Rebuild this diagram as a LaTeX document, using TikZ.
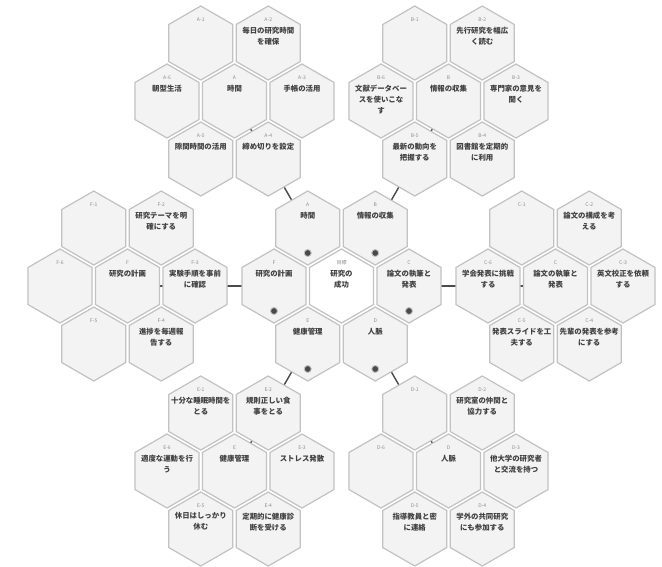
\documentclass[tikz,border=0pt]{standalone}
\usepackage{fontspec}
\setmainfont{Noto Sans CJK JP}
\usetikzlibrary{shapes.geometric}
\pgfdeclarelayer{bg}
\pgfsetlayers{bg,main}
\definecolor{hexfill}{HTML}{F3F3F3}
\definecolor{hexline}{HTML}{C2C2C2}
\definecolor{txt}{HTML}{404040}
\definecolor{lab}{HTML}{8C8C8C}
\definecolor{link}{HTML}{4A4A4A}
\tikzset{
  hexcell/.style={regular polygon, regular polygon sides=6, shape border rotate=30,
    minimum size=74pt, inner sep=0pt, outer sep=0pt, draw=hexline, fill=hexfill, line width=1.2pt},
  goalcell/.style={hexcell, fill=white},
  hexlab/.style={font=\fontsize{5}{5}\selectfont, text=lab, inner sep=0pt},
  hextext/.style={font=\bfseries\fontsize{7.4}{11}\selectfont, text=txt, align=center, inner sep=0pt, anchor=north},
  linkline/.style={draw=link, line width=1.4pt},
  markdot/.style={circle, inner sep=0pt, minimum size=7pt, fill=link, draw=hexline, line width=0.9pt},
}
\newcommand{\hexbox}[5][hexcell]{%
  \node[#1] (#2) at (#3) {};
  \node[hexlab] (#2-l) at ([yshift=23pt]#2.center) {#4};
  \node[hextext] (#2-t) at ([yshift=16.5pt]#2.center) {#5};
}
\newcommand{\hexempty}[3]{%
  \node[hexcell] (#1) at (#2) {};
  \node[hexlab] (#1-l) at ([yshift=23pt]#1.center) {#3};
}
\begin{document}
\begin{tikzpicture}[x=1pt,y=-1pt]
\useasboundingbox (0,0) rectangle (662,566);
\begin{pgfonlayer}{bg}
\fill[white] (0,0) rectangle (662,566);
\end{pgfonlayer}

% ---------- central cluster ----------
\begin{scope}[shift={(341.5,286)}]
\hexbox[goalcell]{G0}{0,0}{目標}{研究の\\成功}
\hexbox{Ga}{-33.75,-58}{A}{時間}
\hexbox{Gb}{33.75,-58}{B}{情報の収集}
\hexbox{Gc}{67.5,0}{C}{論文の執筆と\\発表}
\hexbox{Gd}{33.75,58}{D}{人脈}
\hexbox{Ge}{-33.75,58}{E}{健康管理}
\hexbox{Gf}{-67.5,0}{F}{研究の計画}
\end{scope}
\foreach \g in {Ga,Gb,Gc,Gd,Ge,Gf}
  \node[markdot] (\g-m) at ([yshift=-25pt]\g.center) {};

% ---------- cluster A : time ----------
\begin{scope}[shift={(234.5,101)}]
\hexbox{A0}{0,0}{A}{時間}
\hexempty{A1}{-33.75,-58}{A-1}
\hexbox{A2}{33.75,-58}{A-2}{毎日の研究時間\\を確保}
\hexbox{A3}{67.5,0}{A-3}{手帳の活用}
\hexbox{A4}{33.75,58}{A-4}{締め切りを設定}
\hexbox{A5}{-33.75,58}{A-5}{隙間時間の活用}
\hexbox{A6}{-67.5,0}{A-6}{朝型生活}
\end{scope}

% ---------- cluster B : information ----------
\begin{scope}[shift={(448.5,101)}]
\hexbox{B0}{0,0}{B}{情報の収集}
\hexempty{B1}{-33.75,-58}{B-1}
\hexbox{B2}{33.75,-58}{B-2}{先行研究を幅広\\く読む}
\hexbox{B3}{67.5,0}{B-3}{専門家の意見を\\聞く}
\hexbox{B4}{33.75,58}{B-4}{図書館を定期的\\に利用}
\hexbox{B5}{-33.75,58}{B-5}{最新の動向を\\把握する}
\hexbox{B6}{-67.5,0}{B-6}{文献データベー\\スを使いこな\\す}
\end{scope}

% ---------- cluster C : writing ----------
\begin{scope}[shift={(555.5,286)}]
\hexbox{C0}{0,0}{C}{論文の執筆と\\発表}
\hexempty{C1}{-33.75,-58}{C-1}
\hexbox{C2}{33.75,-58}{C-2}{論文の構成を考\\える}
\hexbox{C3}{67.5,0}{C-3}{英文校正を依頼\\する}
\hexbox{C4}{33.75,58}{C-4}{先輩の発表を参考\\にする}
\hexbox{C5}{-33.75,58}{C-5}{発表スライドを工\\夫する}
\hexbox{C6}{-67.5,0}{C-6}{学会発表に挑戦\\する}
\end{scope}

% ---------- cluster D : network ----------
\begin{scope}[shift={(448.5,471)}]
\hexbox{D0}{0,0}{D}{人脈}
\hexempty{D1}{-33.75,-58}{D-1}
\hexbox{D2}{33.75,-58}{D-2}{研究室の仲間と\\協力する}
\hexbox{D3}{67.5,0}{D-3}{他大学の研究者\\と交流を持つ}
\hexbox{D4}{33.75,58}{D-4}{学外の共同研究\\にも参加する}
\hexbox{D5}{-33.75,58}{D-5}{指導教員と密\\に連絡}
\hexempty{D6}{-67.5,0}{D-6}
\end{scope}

% ---------- cluster E : health ----------
\begin{scope}[shift={(234.5,471)}]
\hexbox{E0}{0,0}{E}{健康管理}
\hexbox{E1}{-33.75,-58}{E-1}{十分な睡眠時間を\\とる}
\hexbox{E2}{33.75,-58}{E-2}{規則正しい食\\事をとる}
\hexbox{E3}{67.5,0}{E-3}{ストレス発散}
\hexbox{E4}{33.75,58}{E-4}{定期的に健康診\\断を受ける}
\hexbox{E5}{-33.75,58}{E-5}{休日はしっかり\\休む}
\hexbox{E6}{-67.5,0}{E-6}{適度な運動を行\\う}
\end{scope}

% ---------- cluster F : planning ----------
\begin{scope}[shift={(127.5,286)}]
\hexbox{F0}{0,0}{F}{研究の計画}
\hexempty{F1}{-33.75,-58}{F-1}
\hexbox{F2}{33.75,-58}{F-2}{研究テーマを明\\確にする}
\hexbox{F3}{67.5,0}{F-3}{実験手順を事前\\に確認}
\hexbox{F4}{33.75,58}{F-4}{進捗を毎週報\\告する}
\hexempty{F5}{-33.75,58}{F-5}
\hexempty{F6}{-67.5,0}{F-6}
\end{scope}

% ---------- connectors (behind the cells) ----------
\begin{pgfonlayer}{bg}
\draw[linkline] (Ga.center) -- (A0.center);
\draw[linkline] (Gb.center) -- (B0.center);
\draw[linkline] (Gc.center) -- (C0.center);
\draw[linkline] (Gd.center) -- (D0.center);
\draw[linkline] (Ge.center) -- (E0.center);
\draw[linkline] (Gf.center) -- (F0.center);
\end{pgfonlayer}
\end{tikzpicture}
\end{document}
